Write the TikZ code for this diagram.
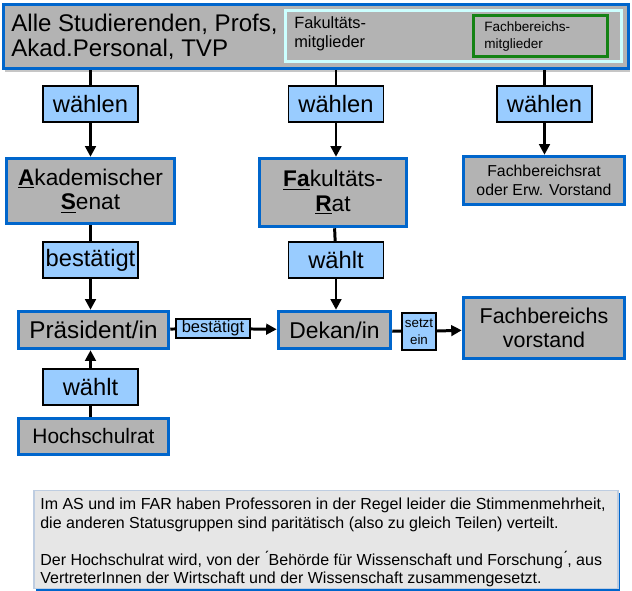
\documentclass[tikz,border=0pt]{standalone}
\usepackage{fontspec}
\setmainfont{Liberation Sans}
\usepackage{xcolor}
\usetikzlibrary{arrows.meta, positioning, shadows}
\definecolor{boxblue}{RGB}{0,102,204}
\definecolor{boxgray}{RGB}{179,179,179}
\definecolor{lblblue}{RGB}{153,204,255}
\definecolor{facborder}{RGB}{204,255,255}
\definecolor{fbgreen}{RGB}{20,130,20}
\definecolor{notefill}{RGB}{230,230,230}
\definecolor{noteborder}{RGB}{190,205,225}

\begin{document}
\begin{tikzpicture}[
  every node/.style={align=center, inner sep=0pt},
  gremium/.style={
    draw=boxblue, line width=2pt, fill=boxgray
  },
  verb/.style={
    draw=black, line width=0.6pt, fill=lblblue,
    minimum width=1.9cm, minimum height=0.72cm,
    font=\fontsize{13.5}{14}\selectfont
  },
  smallverb/.style={
    draw=black, line width=0.6pt, fill=lblblue
  },
  ln/.style={line width=1.7pt},
  arr/.style={-{Triangle[length=6pt, width=6pt]}, line width=1.7pt},
]

\useasboundingbox (0,0) rectangle (12.64,-11.8);

%% --- Wahlberechtigte ---------------------------------------------------------

\node[gremium, minimum width=12.5cm, minimum height=1.28cm,
      drop shadow={fill=gray!45, shadow xshift=0.6pt, shadow yshift=-2.2pt, opacity=1}]
  (alle) at (6.32,-0.73) {};
\node[anchor=west, align=left, font=\fontsize{13.7}{14.3}\selectfont]
  (alletxt) at (0.22,-0.74) {Alle Studierenden, Profs,\\Akad.Personal, TVP};

\node[draw=facborder, line width=1.3pt, minimum width=6.72cm, minimum height=1.02cm]
  (fak) at (9.07,-0.72) {};
\node[anchor=north west, align=left, font=\fontsize{9.3}{11}\selectfont]
  (faktxt) at (5.88,-0.32) {Fakult\"ats-\\mitglieder};

\node[draw=fbgreen, line width=1.5pt, minimum width=2.68cm, minimum height=0.82cm]
  (fb) at (10.81,-0.72) {};
\node[anchor=north west, align=left, font=\fontsize{7.7}{9.3}\selectfont]
  (fbtxt) at (9.68,-0.43) {Fachbereichs-\\mitglieder};

%% --- Gremien ------------------------------------------------------------------

\node[verb] (wA) at (1.81,-2.08) {w\"ahlen};
\node[verb] (wF) at (6.72,-2.08) {w\"ahlen};
\node[verb] (wB) at (10.89,-2.08) {w\"ahlen};

\node[gremium, minimum width=3.36cm, minimum height=1.3cm,
      font=\fontsize{12.9}{13.8}\selectfont]
  (senat) at (1.81,-3.82) {\underline{\textbf{A}}kademischer\\\underline{\textbf{S}}enat};
\node[gremium, minimum width=2.94cm, minimum height=1.36cm,
      font=\fontsize{12.9}{13.8}\selectfont]
  (far) at (6.66,-3.85) {\underline{\textbf{Fa}}kult\"ats-\\\underline{\textbf{R}}at};
\node[gremium, minimum width=3.22cm, minimum height=0.96cm,
      font=\fontsize{9}{11}\selectfont]
  (fbr) at (10.88,-3.61) {Fachbereichsrat\\oder Erw. Vorstand};

\node[verb] (bA) at (1.81,-5.2) {best\"atigt};
\node[verb] (wF2) at (6.72,-5.2) {w\"ahlt};

%% --- Leitung ------------------------------------------------------------------

\node[gremium, minimum width=3.0cm, minimum height=0.74cm,
      font=\fontsize{13.8}{14}\selectfont]
  (praes) at (1.87,-6.6) {Pr\"asident/in};
\node[smallverb, minimum width=1.48cm, minimum height=0.38cm,
      font=\fontsize{9.4}{10}\selectfont]
  (bst) at (4.26,-6.57) {best\"atigt};
\node[gremium, minimum width=2.24cm, minimum height=0.74cm,
      font=\fontsize{13}{14}\selectfont]
  (dekan) at (6.69,-6.6) {Dekan/in};
\node[smallverb, minimum width=0.68cm, minimum height=0.74cm,
      font=\fontsize{7.6}{9.5}\selectfont]
  (setzt) at (8.38,-6.63) {setzt\\ein};
\node[gremium, minimum width=3.22cm, minimum height=1.22cm,
      font=\fontsize{12.2}{14}\selectfont]
  (fbv) at (10.88,-6.56) {Fachbereichs\\vorstand};

\node[verb] (wH) at (1.81,-7.74) {w\"ahlt};
\node[gremium, minimum width=3.0cm, minimum height=0.72cm,
      font=\fontsize{11.9}{12}\selectfont]
  (hsr) at (1.87,-8.73) {Hochschulrat};

%% --- Verbindungen ---------------------------------------------------------------

\foreach \lbl/\gr in {wA/senat, wF/far, wB/fbr}{
  \draw[ln] (alle.south -| \lbl) -- (\lbl);
  \draw[arr] (\lbl) -- (\lbl |- \gr.north);
}

\draw[ln] (senat) -- (bA);
\draw[arr] (bA) -- (bA |- praes.north);
\draw[ln] (far) -- (wF2);
\draw[arr] (wF2) -- (wF2 |- dekan.north);

\draw[ln] (praes) -- (bst);
\draw[arr] (bst) -- (dekan);
\draw[ln] (dekan) -- (setzt);
\draw[arr] (setzt) -- (fbv);

\draw[ln] (hsr.north -| wH) -- (wH);
\draw[arr] (wH) -- (wH |- praes.south);

%% --- Anmerkung ------------------------------------------------------------------

\node[draw=noteborder, line width=0.6pt, fill=notefill,
      minimum width=11.68cm, minimum height=1.96cm,
      drop shadow={fill=boxblue, shadow xshift=1.2pt, shadow yshift=-1.2pt, opacity=1}]
  (note) at (6.52,-10.79) {};
\node[anchor=north west, align=left, font=\fontsize{9.1}{10.6}\selectfont]
  (notetxt) at (0.8,-9.95)
  {Im AS und im FAR haben Professoren in der Regel leider die Stimmenmehrheit,\\
   die anderen Statusgruppen sind parit\"atisch (also zu gleich Teilen) verteilt.\\[10.6pt]
   Der Hochschulrat wird, von der \'{}Beh\"orde f\"ur Wissenschaft und Forschung\'{}, aus\\
   VertreterInnen der Wirtschaft und der Wissenschaft zusammengesetzt.};

\end{tikzpicture}
\end{document}
